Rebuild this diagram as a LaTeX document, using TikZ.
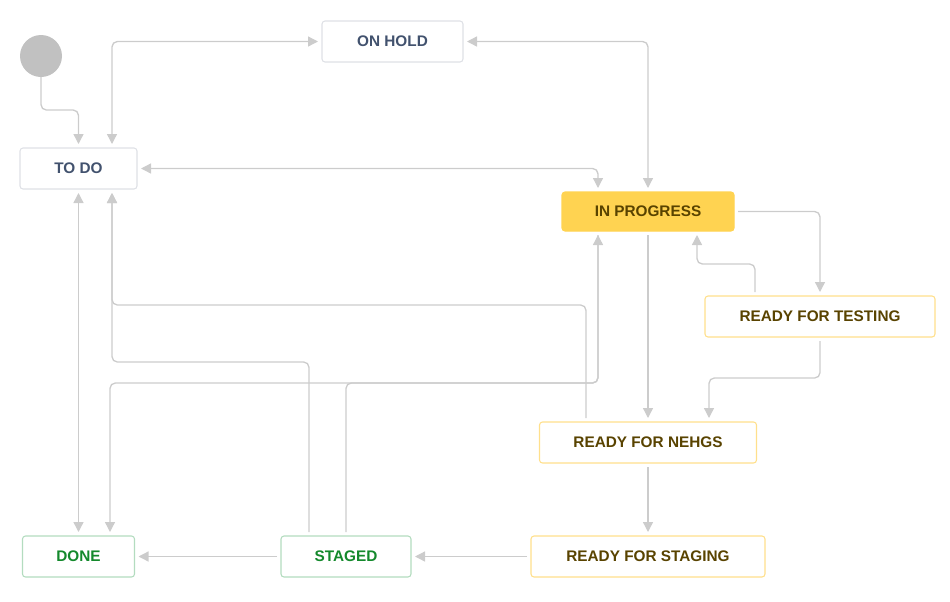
\documentclass[tikz,border=0pt]{standalone}
\usepackage{fontspec}
\setmainfont{Liberation Sans}
\usetikzlibrary{arrows.meta}
\definecolor{conncol}{HTML}{CCCCCC}
\definecolor{greyborder}{HTML}{DFE1E6}
\definecolor{greytext}{HTML}{42526E}
\definecolor{yelfill}{HTML}{FFD351}
\definecolor{yelborder}{HTML}{FFE08C}
\definecolor{yeltext}{HTML}{594300}
\definecolor{grnborder}{HTML}{B3DCBF}
\definecolor{grntext}{HTML}{14892C}
\definecolor{startfill}{HTML}{C1C1C1}
\tikzset{
  x=0.75pt, y=-0.75pt,
  box/.style={draw, rounded corners=2.25pt, line width=0.8pt, inner sep=0pt,
    minimum height=30.75pt, outer sep=3pt,
    font=\fontsize{11.5}{13}\selectfont\bfseries},
  greybox/.style={box, draw=greyborder, fill=white, text=greytext},
  yelbox/.style={box, draw=yelborder, fill=white, text=yeltext},
  activebox/.style={box, draw=yelfill, fill=yelfill, text=yeltext},
  grnbox/.style={box, draw=grnborder, fill=white, text=grntext},
  conn/.style={draw=conncol, line width=1pt, rounded corners=4pt,
    -{Triangle[length=7.5pt,width=7.5pt]}},
  conn2/.style={conn, {Triangle[length=7.5pt,width=7.5pt]}-{Triangle[length=7.5pt,width=7.5pt]}},
}
\begin{document}
\begin{tikzpicture}
\useasboundingbox (0,0) rectangle (950,601);
% nodes
\node[circle, fill=startfill, minimum size=31.5pt, inner sep=0pt, outer sep=0pt] (start) at (41,56) {};
\node[greybox, minimum width=105.75pt] (onhold) at (392.5,41.5) {ON HOLD};
\node[greybox, minimum width=87.75pt] (todo) at (78.5,168.5) {TO DO};
\node[activebox, minimum width=129pt, minimum height=29.25pt] (ip) at (648,211.5) {IN PROGRESS};
\node[yelbox, minimum width=172.5pt] (rft) at (820,316.5) {READY FOR TESTING};
\node[yelbox, minimum width=162.75pt] (rfn) at (648,442.5) {READY FOR NEHGS};
\node[yelbox, minimum width=175.5pt] (rfs) at (648,556.5) {READY FOR STAGING};
\node[grnbox, minimum width=97.5pt] (staged) at (346,556.5) {STAGED};
\node[grnbox, minimum width=84pt] (done) at (78.5,556.5) {DONE};
% helper coordinates
\coordinate (c110) at (110,0);
\coordinate (c112) at (112,0);
\coordinate (c309) at (309,0);
\coordinate (c586) at (586,0);
\coordinate (c598) at (598,0);
\coordinate (c697) at (697,0);
\coordinate (c709) at (709,0);
\coordinate (c755) at (755,0);
\coordinate (r110) at (0,110);
\coordinate (r264) at (0,264);
\coordinate (r305) at (0,305);
\coordinate (r362) at (0,362);
\coordinate (r378) at (0,378);
\coordinate (r383) at (0,383);
% connectors
\draw[conn] (start.south) -- (start.south |- r110) -| (todo.north);
\draw[conn2] (todo.north -| c112) |- (onhold.west);
\draw[conn2] (onhold.east) -| (ip.north);
\draw[conn2] (todo.east) -| (ip.north -| c598);
\draw[conn] (ip.east) -| (rft.north);
\draw[conn] (rft.north -| c755) -- (c755 |- r264) -- (c697 |- r264) -- (ip.south -| c697);
\draw[conn] (ip.south) -- (rfn.north);
\draw[conn] (rft.south) -- (rft.south |- r378) -| (rfn.north -| c709);
\draw[conn] (rfn.north -| c586) -- (c586 |- r305) -| (todo.south -| c112);
\draw[conn] (staged.north -| c309) -- (c309 |- r362) -| (todo.south -| c112);
\draw[conn2] (todo.south) -- (done.north);
\draw[conn] (ip.south -| c598) -- (c598 |- r383) -| (done.north -| c110);
\draw[conn] (staged.north) -- (staged.north |- r383) -| (ip.south -| c598);
\draw[conn] (rfn.south) -- (rfs.north);
\draw[conn] (rfs.west) -- (staged.east);
\draw[conn] (staged.west) -- (done.east);
\end{tikzpicture}
\end{document}
